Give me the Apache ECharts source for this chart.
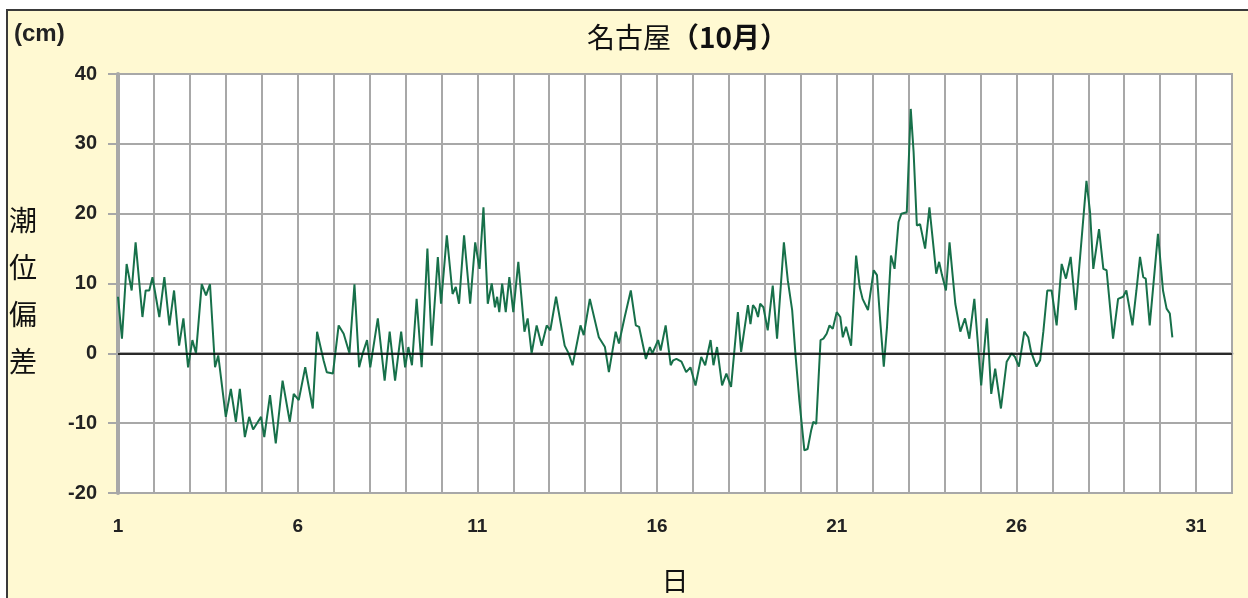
<!DOCTYPE html>
<html lang="ja">
<head>
<meta charset="UTF-8">
<title>名古屋 潮位偏差（10月）</title>
<script src="https://cdn.jsdelivr.net/npm/echarts@6/dist/echarts.min.js"></script>
<style>
  html, body { margin: 0; padding: 0; width: 1248px; height: 598px; overflow: hidden; background: #fff; }
  #frame { position: absolute; left: 6px; top: 9px; width: 1260px; height: 600px;
           border-left: 2px solid #3a3a3a; border-top: 2px solid #3a3a3a; background: #fff9d2; }
  #chart { position: absolute; left: 0; top: 0; width: 1248px; height: 598px; }
</style>
</head>
<body>
<div id="frame"></div>
<div id="chart"></div>
<script>
    // position in days (1 = 1st, 00:00) of each turning point
    const days = [
        1.00, 1.11, 1.24, 1.31, 1.38, 1.49, 1.68, 1.77, 1.87, 1.96,
        2.15, 2.29, 2.43, 2.56, 2.70, 2.82, 2.95,
        3.07, 3.17, 3.33, 3.45, 3.56, 3.70, 3.79,
        4.00, 4.14, 4.28, 4.39, 4.53, 4.65, 4.76, 4.98,
        5.07, 5.23, 5.39, 5.58, 5.78, 5.89,
        6.03, 6.21, 6.42, 6.54, 6.72, 6.81, 6.98,
        7.14, 7.28, 7.44, 7.58, 7.71, 7.81, 7.93,
        8.02, 8.23, 8.42, 8.56, 8.71, 8.88, 8.99,
        9.08, 9.18, 9.31, 9.45, 9.61, 9.73, 9.90, 9.99,
        10.15, 10.31, 10.40, 10.49, 10.63, 10.80, 10.94,
        11.06, 11.17, 11.29, 11.40, 11.49, 11.55, 11.61, 11.69, 11.79, 11.89,
        12.00, 12.14, 12.31, 12.40, 12.51, 12.65, 12.79, 12.93,
        13.03, 13.19, 13.43, 13.54, 13.65, 13.87, 13.96,
        14.13, 14.38, 14.55, 14.66, 14.85, 14.94,
        15.10, 15.27, 15.41, 15.50, 15.69, 15.80, 15.87,
        16.03, 16.10, 16.24, 16.38, 16.45, 16.54, 16.68, 16.81, 16.93,
        17.07, 17.23, 17.34, 17.49, 17.57, 17.67, 17.81, 17.93,
        18.06, 18.25, 18.34, 18.53, 18.60, 18.67, 18.74, 18.81, 18.87, 18.96,
        19.08, 19.22, 19.34, 19.53, 19.64, 19.76, 19.85, 19.96,
        20.10, 20.19, 20.29, 20.35, 20.43, 20.55, 20.63, 20.72, 20.80, 20.89,
        21.00, 21.10, 21.17, 21.26, 21.40, 21.54, 21.64, 21.72, 21.87,
        22.03, 22.12, 22.21, 22.31, 22.40, 22.51, 22.61, 22.72, 22.80, 22.95,
        23.06, 23.14, 23.23, 23.32, 23.46, 23.58, 23.77, 23.85, 23.93,
        24.04, 24.14, 24.30, 24.44, 24.57, 24.69, 24.83,
        25.02, 25.18, 25.30, 25.41, 25.57, 25.73, 25.87, 25.96,
        26.07, 26.22, 26.33, 26.41, 26.56, 26.66, 26.75, 26.86, 26.98,
        27.12, 27.26, 27.38, 27.51, 27.65, 27.75, 27.95,
        28.05, 28.14, 28.30, 28.42, 28.51, 28.69, 28.83, 28.97,
        29.06, 29.23, 29.34, 29.44, 29.53, 29.60, 29.71, 29.94,
        30.08, 30.18, 30.27, 30.34
    ];

    // 潮位偏差 (cm)
    const surge = [
        8.1, 2.1, 12.8, 10.9, 9.0, 15.9, 5.2, 9.0, 9.0, 10.9,
        5.2, 10.9, 4.0, 9.0, 1.1, 5.0, -2.0,
        1.9, 0.0, 9.9, 8.3, 9.9, -2.0, -0.3,
        -9.1, -5.1, -9.8, -5.1, -12.0, -9.1, -10.9, -9.1,
        -12.0, -6.0, -12.9, -3.9, -9.8, -5.8,
        -6.7, -2.0, -7.9, 3.1, -1.0, -2.7, -2.9,
        4.0, 2.8, 0.0, 9.9, -2.0, 0.0, 1.9,
        -2.0, 5.0, -3.9, 3.1, -3.9, 3.1, -2.0,
        0.9, -1.7, 7.8, -2.0, 15.0, 1.1, 13.8, 7.1,
        16.9, 8.5, 9.5, 7.1, 16.9, 7.1, 15.9,
        12.1, 20.9, 7.1, 10.0, 6.6, 8.1, 5.9, 10.0, 5.9, 10.9,
        5.9, 13.1, 3.1, 5.0, 0.0, 4.0, 1.1, 4.0,
        3.3, 8.1, 1.1, 0.0, -1.7, 4.0, 2.6,
        7.8, 2.3, 0.9, -2.7, 3.1, 1.4,
        5.2, 9.0, 4.0, 3.8, -0.8, 0.9, 0.0,
        1.9, 0.4, 4.0, -1.7, -1.0, -0.8, -1.2, -2.7, -2.0,
        -4.6, -0.5, -1.7, 1.9, -1.7, 0.9, -4.6, -2.9,
        -4.8, 5.9, 0.2, 6.9, 4.2, 6.9, 6.4, 5.2, 7.1, 6.6,
        3.3, 9.7, 2.1, 15.9, 10.4, 6.2, 0.0, -6.7,
        -13.9, -13.7, -11.0, -9.8, -10.1, 1.9, 2.1, 2.8, 4.0, 3.5,
        5.9, 5.2, 2.3, 3.8, 1.1, 14.0, 9.5, 7.8, 6.2,
        11.9, 11.2, 4.7, -1.9, 3.8, 14.0, 12.1, 18.8, 20.0, 20.2,
        35.0, 28.8, 18.3, 18.5, 15.0, 20.9, 11.4, 13.1, 11.2,
        9.0, 15.9, 7.1, 3.1, 5.0, 2.1, 7.8,
        -4.6, 5.0, -5.8, -2.2, -7.9, -1.2, 0.0, -0.5,
        -1.9, 3.1, 2.3, 0.2, -1.9, -1.0, 3.1, 9.0, 9.0,
        4.0, 12.8, 10.7, 13.8, 6.2, 12.4, 24.7,
        20.2, 12.1, 17.8, 12.1, 11.9, 2.1, 7.8, 8.1,
        9.0, 4.0, 9.0, 13.8, 10.9, 10.7, 4.0, 17.1,
        9.0, 6.4, 5.7, 2.3
    ];

    const xMin = 1, xMax = 32, xStep = 1, xLabelEvery = 5;
    const yMin = -20, yMax = 40, yStep = 10;

    const gridGray = '#a8a8a8';
    const numFont = 'Liberation Sans';
    const cjkFont = 'Noto Sans CJK JP';

    const chart = echarts.init(document.querySelector('#chart'));

    chart.setOption({
        backgroundColor: 'transparent',
        animation: false,
        title: [
            {
                text: '{a|名古屋}{b|（10月）}',
                left: 582,
                top: 18,
                textStyle: {
                    fontWeight: 'normal',
                    rich: {
                        a: { fontSize: 28, fontFamily: cjkFont, fontWeight: 'normal', color: '#111' },
                        b: { fontSize: 28, fontFamily: cjkFont, fontWeight: 'bold', color: '#111' }
                    }
                }
            },
            {
                text: '(cm)',
                left: 9,
                top: 17,
                textStyle: { fontSize: 24, fontWeight: 'bold', fontFamily: numFont, color: '#222' }
            },
            {
                // y-axis name, written vertically
                text: '潮\n位\n偏\n差',
                left: 9,
                top: 197,
                padding: 0,
                textStyle: {
                    fontSize: 28, lineHeight: 47, fontWeight: 'normal',
                    fontFamily: cjkFont, color: '#111'
                }
            }
        ],
        grid: {
            left: 118,
            right: 16,
            top: 74,
            bottom: 105,
            outerBoundsMode: 'none',
            containLabel: false,
            show: true,
            backgroundColor: '#fff',
            borderColor: gridGray,
            borderWidth: 2
        },
        xAxis: {
            type: 'value',
            min: xMin,
            max: xMax,
            interval: xStep,
            name: '日',
            nameLocation: 'middle',
            nameGap: 74,
            nameTextStyle: { fontSize: 27, fontFamily: cjkFont, color: '#111' },
            axisLine: { show: true, lineStyle: { color: gridGray, width: 3 } },
            axisTick: { show: true, length: 10, lineStyle: { color: gridGray, width: 2 } },
            axisLabel: {
                margin: 24,
                fontSize: 19,
                fontWeight: 'bold',
                fontFamily: numFont,
                color: '#222',
                formatter: v => ((v - xMin) % xLabelEvery === 0 ? String(v) : '')
            },
            splitLine: { show: true, lineStyle: { color: gridGray, width: 2 } }
        },
        yAxis: {
            type: 'value',
            min: yMin,
            max: yMax,
            interval: yStep,
            axisLine: { show: true, lineStyle: { color: gridGray, width: 4 } },
            axisTick: { show: true, length: 10, lineStyle: { color: gridGray, width: 2 } },
            axisLabel: {
                margin: 21,
                fontSize: 20,
                fontWeight: 'bold',
                fontFamily: numFont,
                color: '#222'
            },
            splitLine: { show: true, lineStyle: { color: gridGray, width: 2 } }
        },
        series: [
            {
                type: 'line',
                data: days.map((d, i) => [d, surge[i]]),
                symbol: 'none',
                lineStyle: { color: '#17704a', width: 2 },
                markLine: {
                    silent: true,
                    symbol: 'none',
                    label: { show: false },
                    lineStyle: { color: '#000', width: 1.5, type: 'solid' },
                    data: [{ yAxis: 0 }]
                },
                z: 3
            }
        ]
    });
</script>
</body>
</html>
